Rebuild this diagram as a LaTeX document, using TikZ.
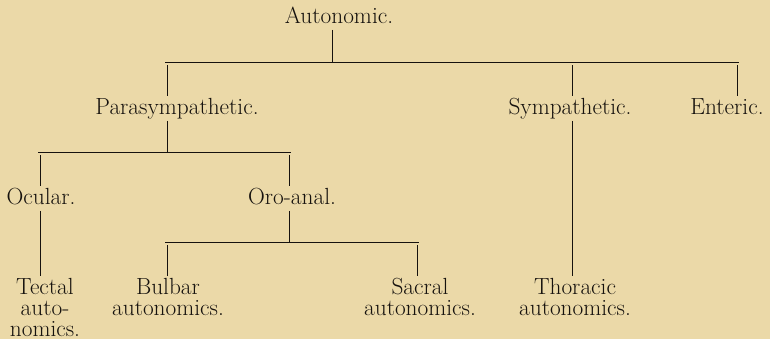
\documentclass[tikz,border=0pt]{standalone}
\usetikzlibrary{positioning}
\definecolor{paper}{RGB}{235,217,168}
\definecolor{ink}{RGB}{22,18,14}

\begin{document}
\begin{tikzpicture}[
    x=0.75pt,
    y=-0.75pt,
    font=\fontsize{17.5}{15.75}\selectfont,
    label/.style={
        align=center,
        anchor=base,
        inner sep=1.5pt,
        text height=12pt,
        text depth=3.5pt,
        text=ink
    },
    leaf/.style={
        align=center,
        anchor=north,
        inner sep=1.5pt,
        text=ink
    },
    link/.style={draw=ink, line width=0.75pt},
    bar/.style={link, shorten <=-1.5pt, shorten >=-1.5pt},
    stem/.style={link, shorten <=2.25pt}
]
\useasboundingbox[fill=paper] (0,0) rectangle (770,339);

% Labels
\node[label] (auto) at (339,23) {Autonomic.};
\node[label] (para) at (177,114) {Parasympathetic.};
\node[label] (symp) at (570,114) {Sympathetic.};
\node[label] (ent) at (727,114) {Enteric.};
\node[label] (ocu) at (41,204) {Ocular.};
\node[label] (oro) at (292,204) {Oro-anal.};
\node[leaf] (tect) at (45,276) {Tectal\\auto-\\nomics.};
\node[leaf] (bulb) at (168,276) {Bulbar\\autonomics.};
\node[leaf] (sacr) at (420,276) {Sacral\\autonomics.};
\node[leaf] (thor) at (575,276) {Thoracic\\autonomics.};

% Junctions on the bars
\coordinate (jA) at (332,62);
\coordinate (jP) at (167,62);
\coordinate (jS) at (572,62);
\coordinate (jE) at (737,62);
\coordinate (jPb) at (167,152);
\coordinate (jO) at (40,152);
\coordinate (jR) at (289,152);
\coordinate (jRc) at (289,242);
\coordinate (jB) at (167,242);
\coordinate (jC) at (417,242);

% Bars
\draw[bar] (jP) -- (jE);
\draw[bar] (jO) -- (jR);
\draw[bar] (jB) -- (jC);

% Parent stems
\draw[link] (auto.south -| jA) -- (jA);
\draw[link] (para.south -| jPb) -- (jPb);
\draw[link] (oro.south -| jRc) -- (jRc);
\draw[link] (symp.south -| jS) -- (thor.north -| jS);
\draw[link] (ocu.south -| jO) -- (tect.north -| jO);

% Child stems
\draw[stem] (jP) -- (para.north -| jP);
\draw[stem] (jS) -- (symp.north -| jS);
\draw[stem] (jE) -- (ent.north -| jE);
\draw[stem] (jO) -- (ocu.north -| jO);
\draw[stem] (jR) -- (oro.north -| jR);
\draw[stem] (jB) -- (bulb.north -| jB);
\draw[stem] (jC) -- (sacr.north -| jC);

\end{tikzpicture}
\end{document}
